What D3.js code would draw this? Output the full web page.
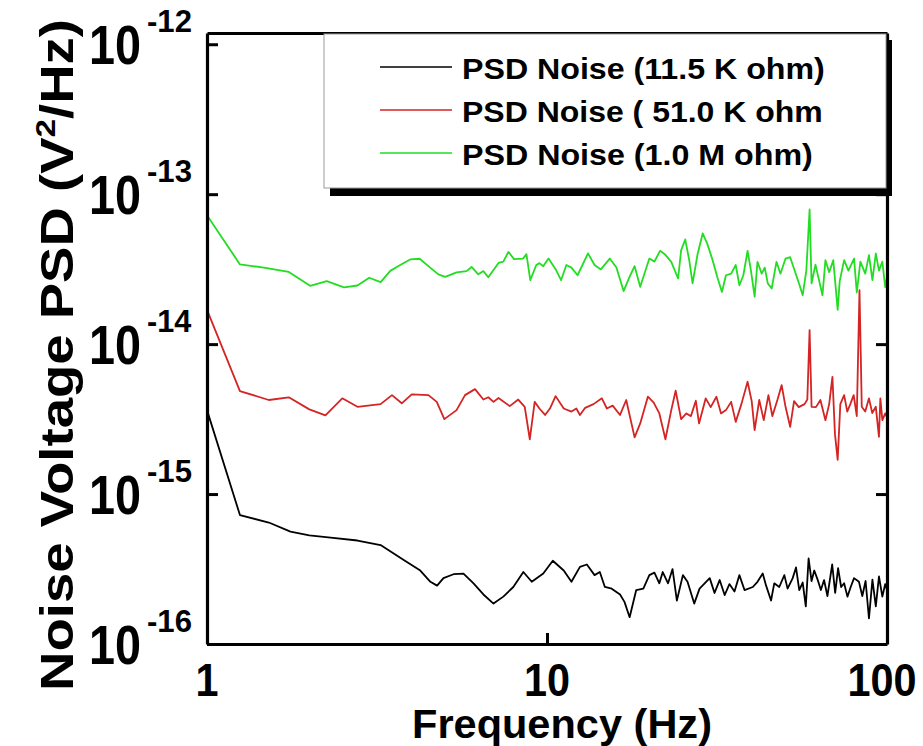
<!DOCTYPE html>
<html><head><meta charset="utf-8">
<script src="https://cdn.jsdelivr.net/npm/d3@7"></script>
<style>body{margin:0;background:#fff}svg{display:block}text{font-family:"Liberation Sans",Arial,sans-serif;font-weight:bold;fill:#000}</style>
</head><body><svg id="c" width="923" height="746"></svg>
<script>
// ---- data ----
const seriesNames = ["PSD Noise (11.5 K ohm)", "PSD Noise ( 51.0 K ohm", "PSD Noise (1.0 M ohm)"];
const seriesColors = ["#000000", "#d42424", "#22dd22"];
const xTickValues = [1, 10, 100];
const xTickLabels = ["1", "10", "100"];
const yTickValues = [1e-12, 1e-13, 1e-14, 1e-15, 1e-16];
const yTickExponents = ["-12", "-13", "-14", "-15", "-16"];

const freqBlack = [1,1.25,1.52,1.76,2.0,2.31,2.77,3.24,3.79,4.24,4.54,4.75,4.96,5.31,5.68,6.08,6.5,6.96,7.44,7.96,8.52,9.02,9.75,10.4,11.2,11.8,12.5,13.1,13.8,14.3,14.8,15.5,16.4,16.9,17.5,18.3,19.2,20.0,20.7,21.4,21.9,22.7,23.4,24.1,25.1,25.9,27.1,28.1,30.1,31.1,32.2,33.3,34.4,35.6,36.8,38.1,40.3,41.6,43.1,44.1,45.6,46.6,48.2,49.9,51.0,52.8,54.0,55.2,56.5,57.7,58.8,60.0,61.1,62.5,63.9,65.3,66.8,69.0,70.4,71.8,73.3,74.8,76.5,78.2,80.0,82.7,84.6,86.5,88.5,90.6,92.7,94.7,96.9,98.8,100];
const psdBlack = [3.63e-15,7.24e-16,6.46e-16,5.62e-16,5.31e-16,5.13e-16,4.90e-16,4.57e-16,3.63e-16,3.09e-16,2.60e-16,2.45e-16,2.75e-16,2.92e-16,2.95e-16,2.54e-16,2.14e-16,1.86e-16,2.07e-16,2.40e-16,3.02e-16,2.60e-16,2.95e-16,3.59e-16,3.09e-16,2.60e-16,3.27e-16,3.39e-16,2.88e-16,3.02e-16,2.40e-16,2.34e-16,2.14e-16,1.91e-16,1.51e-16,2.29e-16,2.34e-16,2.88e-16,2.99e-16,2.54e-16,3.02e-16,2.54e-16,3.16e-16,1.95e-16,2.88e-16,2.60e-16,1.86e-16,2.34e-16,2.75e-16,2.19e-16,2.67e-16,2.12e-16,2.51e-16,2.24e-16,2.88e-16,2.29e-16,2.40e-16,2.60e-16,2.95e-16,2.45e-16,1.95e-16,2.54e-16,2.40e-16,2.88e-16,2.34e-16,2.75e-16,3.24e-16,2.29e-16,2.57e-16,1.78e-16,3.72e-16,2.63e-16,3.09e-16,2.69e-16,2.29e-16,2.67e-16,2.09e-16,3.39e-16,2.19e-16,3.20e-16,2.40e-16,2.54e-16,2.07e-16,2.40e-16,2.75e-16,2.60e-16,2.09e-16,2.63e-16,1.48e-16,2.69e-16,1.78e-16,2.82e-16,2.07e-16,2.51e-16,2.29e-16];

const freqRed = [1,1.25,1.52,1.74,2.0,2.23,2.5,2.77,3.24,3.5,3.74,4.0,4.48,4.74,4.99,5.42,5.74,6.14,6.5,6.72,6.96,7.2,7.77,8.23,8.6,8.9,9.2,9.5,9.87,10.2,10.6,11.2,11.8,12.2,12.5,12.95,13.7,14.5,15.0,15.6,16.4,17.1,18.1,18.8,19.8,20.6,21.4,22.3,23.2,23.9,24.8,25.7,26.5,27.4,28.0,29.3,30.3,31.5,32.5,33.6,34.8,35.9,37.3,38.9,40.0,40.8,42.1,43.4,44.8,46.0,47.6,49.0,50.3,51.9,53.3,55.0,57.2,58.3,59.2,60.0,61.8,63.7,65.9,67.6,69.1,70.3,71.6,72.9,74.8,76.4,78.0,79.8,81.5,83.0,84.3,86.3,88.5,90.5,92.7,94.7,95.6,96.9,98.8,100];
const psdRed = [1.69e-14,4.86e-15,4.24e-15,4.42e-15,3.67e-15,3.35e-15,4.35e-15,3.82e-15,3.98e-15,4.57e-15,4.03e-15,4.62e-15,4.57e-15,4.12e-15,3.16e-15,3.63e-15,4.57e-15,5.01e-15,4.27e-15,4.42e-15,4.12e-15,4.37e-15,3.86e-15,4.27e-15,3.82e-15,2.32e-15,4.12e-15,3.72e-15,3.37e-15,3.72e-15,4.50e-15,3.72e-15,3.55e-15,3.72e-15,3.37e-15,3.76e-15,3.98e-15,4.35e-15,3.72e-15,3.89e-15,3.37e-15,4.24e-15,2.39e-15,2.96e-15,4.46e-15,4.07e-15,3.45e-15,2.32e-15,3.63e-15,4.89e-15,3.16e-15,3.45e-15,3.31e-15,4.19e-15,2.96e-15,4.35e-15,3.80e-15,4.46e-15,3.45e-15,3.63e-15,4.12e-15,3.03e-15,3.98e-15,5.61e-15,4.17e-15,2.67e-15,4.24e-15,3.11e-15,4.57e-15,3.31e-15,4.24e-15,5.33e-15,3.82e-15,2.81e-15,4.17e-15,3.80e-15,3.98e-15,4.27e-15,1.24e-14,3.82e-15,3.80e-15,4.24e-15,3.11e-15,3.98e-15,6.05e-15,2.51e-15,1.69e-15,3.98e-15,4.57e-15,3.55e-15,3.98e-15,4.57e-15,3.31e-15,2.29e-14,3.82e-15,3.55e-15,4.35e-15,3.47e-15,3.82e-15,2.41e-15,4.35e-15,3.11e-15,3.45e-15,3.24e-15];

const freqGreen = [1,1.25,1.47,1.74,2.01,2.25,2.53,2.77,3.0,3.24,3.46,3.7,3.96,4.22,4.48,4.79,5.02,5.42,5.8,6.0,6.28,6.5,6.72,7.2,7.44,7.7,8.0,8.5,8.7,8.93,9.3,9.5,9.75,10.1,10.6,11.0,11.4,11.8,12.3,13.2,13.8,14.4,15.3,16.0,16.8,17.5,18.1,18.8,20.0,20.7,21.5,22.3,23.2,24.3,24.8,25.5,26.2,26.8,27.7,28.7,29.6,30.7,31.7,32.7,33.6,34.8,35.9,36.8,37.8,38.9,39.8,40.8,41.6,42.8,43.7,44.6,45.8,47.3,48.6,50.3,51.9,53.9,55.2,56.5,57.9,59.2,60.0,61.6,64.6,65.9,67.6,69.5,71.6,72.6,74.8,77.0,80.0,81.5,83.5,86.3,88.5,90.6,92.7,94.7,96.9,98.8,100];
const psdGreen = [7.24e-14,3.40e-14,3.24e-14,3.03e-14,2.45e-14,2.63e-14,2.39e-14,2.46e-14,2.77e-14,2.59e-14,3.08e-14,3.37e-14,3.67e-14,3.71e-14,3.31e-14,2.92e-14,2.81e-14,3.01e-14,3.07e-14,3.27e-14,2.92e-14,3.07e-14,2.79e-14,3.48e-14,3.55e-14,4.12e-14,3.69e-14,3.72e-14,3.98e-14,2.67e-14,3.37e-14,3.47e-14,3.31e-14,3.72e-14,3.16e-14,2.67e-14,3.37e-14,3.24e-14,2.88e-14,4.03e-14,3.37e-14,3.15e-14,3.72e-14,3.24e-14,2.26e-14,2.82e-14,3.31e-14,2.41e-14,3.72e-14,3.55e-14,4.19e-14,3.94e-14,3.54e-14,2.74e-14,4.22e-14,4.99e-14,3.63e-14,2.54e-14,3.94e-14,5.47e-14,4.68e-14,3.63e-14,2.79e-14,2.23e-14,2.88e-14,2.95e-14,3.37e-14,2.47e-14,2.88e-14,4.19e-14,3.09e-14,2.07e-14,3.54e-14,2.95e-14,3.24e-14,2.54e-14,2.35e-14,3.54e-14,2.95e-14,3.72e-14,3.80e-14,2.95e-14,2.51e-14,2.12e-14,3.09e-14,7.91e-14,2.54e-14,3.39e-14,2.12e-14,3.63e-14,3.02e-14,3.63e-14,1.69e-14,2.63e-14,3.63e-14,3.09e-14,3.72e-14,2.21e-14,3.55e-14,2.95e-14,3.92e-14,2.67e-14,4.02e-14,3.09e-14,3.55e-14,2.40e-14,2.82e-14];

// ---- drawing ----
const svg = d3.select("#c");
const L = 207, R = 887, T = 33, B = 644;
const x = d3.scaleLog().domain([1, 100]).range([L, R]);
const y = d3.scaleLog().domain([1e-16, Math.pow(10, -11.925)]).range([B, T]);

function fitText(g, target) {
  const w = g.node().getBBox().width;
  return w > 0 ? target / w : 1;
}

const series = [
  {f: freqBlack, v: psdBlack},
  {f: freqRed, v: psdRed},
  {f: freqGreen, v: psdGreen}
];
const line = d3.line().x(d => x(d[0])).y(d => y(d[1]));
series.forEach((s, i) => {
  const pts = s.f.map((f, k) => [f, s.v[k]]);
  svg.append("path").datum(pts).attr("d", line)
    .attr("fill", "none").attr("stroke", seriesColors[i])
    .attr("stroke-width", 1.8).attr("stroke-linejoin", "round");
});

const axStyle = g => {
  g.selectAll(".domain").attr("stroke-width", 3.2).attr("stroke", "#000");
  g.selectAll(".tick line").attr("stroke-width", 3).attr("stroke", "#000");
  g.selectAll(".tick text").remove();
};
svg.append("g").attr("transform", `translate(${L},0)`)
  .call(d3.axisLeft(y).tickValues(yTickValues).tickSizeInner(-11).tickSizeOuter(0)).call(axStyle);
svg.append("g").attr("transform", `translate(${R},0)`)
  .call(d3.axisRight(y).tickValues(yTickValues).tickSizeInner(-11).tickSizeOuter(0)).call(axStyle);
svg.append("g").attr("transform", `translate(0,${B})`)
  .call(d3.axisBottom(x).tickValues([10]).tickSizeInner(-11).tickSizeOuter(0)).call(axStyle);
svg.append("g").attr("transform", `translate(0,${T})`)
  .call(d3.axisTop(x).tickValues([10]).tickSizeInner(-11).tickSizeOuter(0)).call(axStyle);

// y tick labels 10^n
yTickValues.forEach((v, i) => {
  const yy = y(v);
  const g1 = svg.append("g");
  g1.append("text").attr("text-anchor", "end").attr("font-size", 55).text("10");
  const s1 = fitText(g1, 52);
  g1.attr("transform", `translate(141,${yy + 20}) scale(${s1},1)`);
  const g2 = svg.append("g");
  g2.append("text").attr("text-anchor", "start").attr("font-size", 31).text(yTickExponents[i]);
  const s2 = fitText(g2, 45);
  g2.attr("transform", `translate(147,${yy - 12}) scale(${s2},1)`);
});

// x tick labels
xTickValues.forEach((v, i) => {
  const g = svg.append("g");
  g.append("text").attr("text-anchor", "middle").attr("font-size", 46).text(xTickLabels[i]);
  let cx = x(v);
  if (v === 100) cx = 882;
  g.attr("transform", `translate(${cx},696) scale(0.9,1)`);
});

// axis titles
{
  const g = svg.append("g");
  g.append("text").attr("text-anchor", "middle").attr("font-size", 40).text("Frequency (Hz)");
  const s = fitText(g, 300);
  g.attr("transform", `translate(562,738) scale(${s},1)`);
}
{
  const g = svg.append("g");
  const t = g.append("text").attr("text-anchor", "middle").attr("font-size", 46);
  t.append("tspan").text("Noise Voltage PSD (V");
  t.append("tspan").attr("font-size", 28).attr("dy", -18).text("2");
  t.append("tspan").attr("dy", 18).text("/Hz)");
  const s = fitText(g, 672);
  g.attr("transform", `translate(73,355) rotate(-90) scale(${s},1)`);
}

// legend
const lg = svg.append("g");
lg.append("rect").attr("x", 330).attr("y", 40).attr("width", 562).attr("height", 156).attr("fill", "#000");
lg.append("rect").attr("x", 324).attr("y", 34).attr("width", 562).attr("height", 154)
  .attr("fill", "#fff").attr("stroke", "#9a9a9a").attr("stroke-width", 1);
const legW = [363, 361, 351];
seriesNames.forEach((name, i) => {
  const yy = 67 + i * 43;
  lg.append("line").attr("x1", 380).attr("x2", 452).attr("y1", yy).attr("y2", yy)
    .attr("stroke", seriesColors[i]).attr("stroke-width", 1.6);
  const g = lg.append("g");
  g.append("text").attr("font-size", 29).text(name);
  const s = fitText(g, legW[i]);
  g.attr("transform", `translate(462,${yy + 12}) scale(${s},1)`);
});
</script></body></html>
